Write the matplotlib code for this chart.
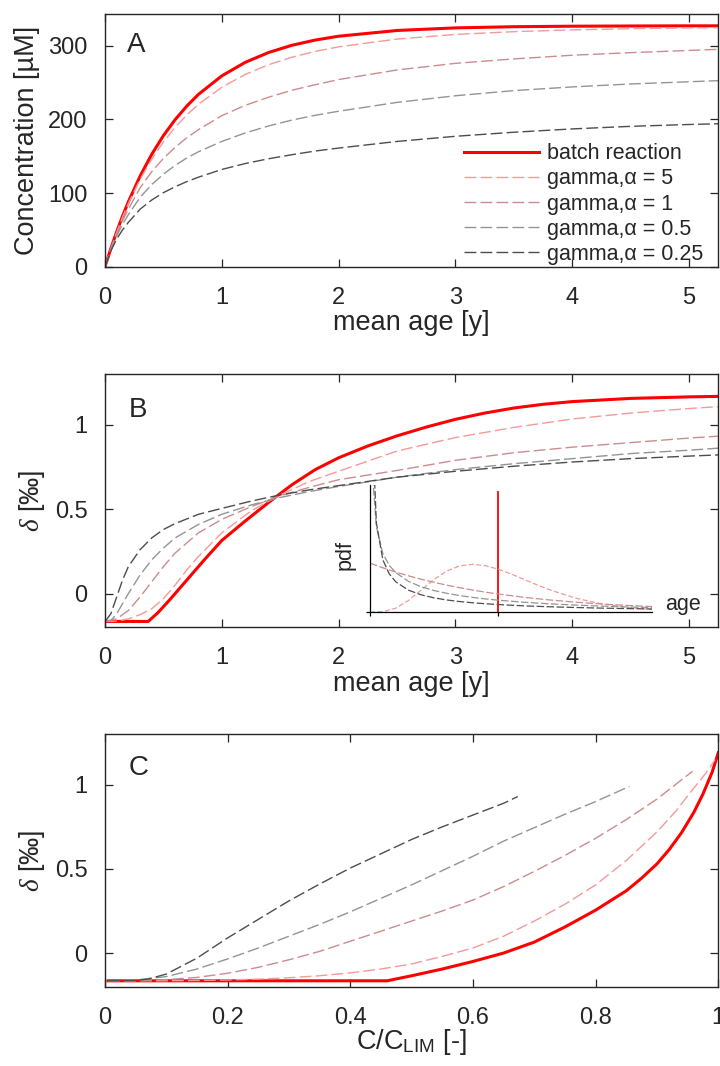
import matplotlib
matplotlib.use('Agg')
import matplotlib.pyplot as plt
from matplotlib.lines import Line2D

plt.rcParams['font.family'] = ['Liberation Sans', 'DejaVu Sans']
plt.rcParams['mathtext.fontset'] = 'custom'
plt.rcParams['mathtext.rm'] = 'Liberation Sans'
plt.rcParams['mathtext.it'] = 'Liberation Serif:italic'
plt.rcParams['mathtext.bf'] = 'Liberation Sans:bold'

# ---------------- data ----------------
labels = ['batch reaction', 'gamma,α = 5', 'gamma,α = 1', 'gamma,α = 0.5', 'gamma,α = 0.25']

# Panel A: concentration vs mean age
xA = [0, 0.05, 0.1, 0.15, 0.2, 0.3, 0.4, 0.5, 0.6, 0.7, 0.8, 1.0, 1.2, 1.4, 1.6, 1.8,
      2.0, 2.5, 3.0, 3.5, 4.0, 4.5, 5.0, 5.25]
conc_batch = [0, 24.7, 47.5, 68.6, 88.1, 122.8, 152.5, 177.9, 199.5, 218.0, 233.9, 259.0,
              277.3, 290.7, 300.5, 307.6, 312.8, 320.6, 324.1, 325.7, 326.4, 326.7, 326.9, 326.9]
conc_a5 = [0, 24.5, 46.8, 67.2, 85.8, 118.5, 146.0, 169.3, 189.1, 205.9, 220.4, 243.5,
           260.9, 274.1, 284.3, 292.2, 298.4, 308.9, 315.2, 319.0, 321.4, 323.0, 324.1, 324.5]
conc_a1 = [0, 23.8, 44.4, 62.3, 78.1, 107.0, 129.0, 147.0, 162.0, 175.0, 186.0, 205.0,
           219.0, 230.0, 239.5, 247.0, 254.0, 267.0, 276.0, 282.0, 287.0, 290.5, 293.5, 295.0]
conc_a05 = [0, 23.0, 41.7, 57.4, 70.7, 94.0, 111.5, 125.5, 137.5, 147.5, 156.0, 170.0,
            181.5, 191.0, 199.0, 205.5, 211.0, 223.0, 232.0, 239.0, 244.0, 248.0, 251.0, 252.5]
conc_a025 = [0, 21.6, 37.5, 50.0, 60.2, 78.0, 90.5, 100.5, 108.5, 115.5, 121.5, 132.0,
             140.0, 146.5, 152.0, 157.0, 161.0, 170.0, 177.0, 182.5, 187.0, 190.5, 193.0, 194.0]

# Panel B: delta vs mean age
xB_batch = [0, 0.37, 0.45, 0.55, 0.65, 0.75, 0.85, 1.0, 1.2, 1.4, 1.6, 1.8, 2.0, 2.25,
            2.5, 2.75, 3.0, 3.25, 3.5, 3.75, 4.0, 4.5, 5.0, 5.25]
dB_batch = [-0.165, -0.165, -0.115, -0.04, 0.04, 0.12, 0.20, 0.315, 0.43, 0.54, 0.645, 0.735,
            0.805, 0.875, 0.935, 0.987, 1.033, 1.07, 1.10, 1.122, 1.138, 1.157, 1.166, 1.169]
xB_a5 = [0, 0.1, 0.2, 0.3, 0.4, 0.5, 0.6, 0.7, 0.8, 1.0, 1.25, 1.5, 1.75, 2.0, 2.5, 3.0,
         3.5, 4.0, 4.5, 5.0, 5.25]
dB_a5 = [-0.165, -0.163, -0.15, -0.125, -0.09, -0.03, 0.05, 0.14, 0.22, 0.36, 0.49, 0.585,
         0.665, 0.725, 0.845, 0.925, 0.985, 1.035, 1.07, 1.097, 1.108]
xB_a1 = [0, 0.1, 0.2, 0.3, 0.4, 0.5, 0.6, 0.8, 1.0, 1.25, 1.5, 1.75, 2.0, 2.5, 3.0, 3.5,
         4.0, 4.5, 5.0, 5.25]
dB_a1 = [-0.165, -0.15, -0.10, -0.02, 0.07, 0.16, 0.24, 0.36, 0.44, 0.515, 0.58, 0.63,
         0.675, 0.73, 0.79, 0.835, 0.868, 0.895, 0.922, 0.933]
xB_a05 = [0, 0.05, 0.1, 0.15, 0.2, 0.3, 0.4, 0.5, 0.6, 0.8, 1.0, 1.25, 1.5, 1.75, 2.0, 2.5,
          3.0, 3.5, 4.0, 4.5, 5.0, 5.25]
dB_a05 = [-0.165, -0.16, -0.12, -0.06, 0.0, 0.11, 0.20, 0.27, 0.33, 0.41, 0.47, 0.525, 0.57,
          0.605, 0.635, 0.69, 0.735, 0.77, 0.80, 0.83, 0.85, 0.862]
xB_a025 = [0, 0.05, 0.1, 0.15, 0.2, 0.3, 0.4, 0.5, 0.6, 0.8, 1.0, 1.25, 1.5, 1.75, 2.0, 2.5,
           3.0, 3.5, 4.0, 4.5, 5.0, 5.25]
dB_a025 = [-0.165, -0.12, -0.02, 0.08, 0.16, 0.26, 0.33, 0.38, 0.415, 0.47, 0.505, 0.548, 0.585,
           0.615, 0.64, 0.69, 0.725, 0.755, 0.78, 0.80, 0.815, 0.822]

# Inset: age pdfs (mean age = 1)
age_batch = 1.0
pdf_batch_top = 2.45
x_pdf = [0.01, 0.02, 0.05, 0.1, 0.15, 0.2, 0.3, 0.4, 0.5, 0.6, 0.7, 0.8, 0.9, 1.0, 1.2, 1.4,
         1.6, 1.8, 2.0, 2.2]
pdf_a025 = [6.16, 3.65, 1.82, 1.07, 0.78, 0.62, 0.447, 0.351, 0.289, 0.246, 0.214, 0.189,
            0.169, 0.152, 0.126, 0.107, 0.092, 0.080, 0.070, 0.062]
pdf_a05 = [3.97, 2.79, 1.74, 1.20, 0.956, 0.807, 0.627, 0.516, 0.439, 0.382, 0.336, 0.299,
           0.268, 0.242, 0.200, 0.167, 0.142, 0.121, 0.104, 0.090]
x_pdf1 = [0, 0.1, 0.2, 0.3, 0.4, 0.5, 0.6, 0.7, 0.8, 0.9, 1.0, 1.2, 1.4, 1.6, 1.8, 2.0, 2.2]
pdf_a1 = [1.0, 0.905, 0.819, 0.741, 0.670, 0.607, 0.549, 0.497, 0.449, 0.407, 0.368, 0.301,
          0.247, 0.202, 0.165, 0.135, 0.111]
x_pdf5 = [0, 0.1, 0.2, 0.3, 0.4, 0.5, 0.6, 0.7, 0.8, 0.9, 1.0, 1.1, 1.2, 1.3, 1.4, 1.6, 1.8,
          2.0, 2.2]
pdf_a5 = [0, 0.008, 0.077, 0.235, 0.451, 0.668, 0.840, 0.944, 0.977, 0.948, 0.877, 0.779,
          0.670, 0.559, 0.456, 0.286, 0.169, 0.095, 0.051]

# Panel C: delta vs C/C_LIM
xC_batch = [0.005, 0.46, 0.5, 0.55, 0.6, 0.65, 0.7, 0.75, 0.8, 0.85, 0.875, 0.9, 0.92, 0.94,
            0.96, 0.975, 0.99, 1.0]
dC_batch = [-0.165, -0.165, -0.135, -0.095, -0.05, 0.0, 0.065, 0.155, 0.255, 0.37, 0.445, 0.53,
            0.615, 0.715, 0.835, 0.945, 1.075, 1.19]
xC_a5 = [0.005, 0.1, 0.15, 0.2, 0.25, 0.3, 0.35, 0.4, 0.45, 0.5, 0.55, 0.6, 0.65, 0.7, 0.75,
         0.8, 0.85, 0.9, 0.93, 0.96, 0.98, 0.995]
dC_a5 = [-0.165, -0.165, -0.163, -0.16, -0.155, -0.147, -0.135, -0.118, -0.095, -0.065,
         -0.02, 0.03, 0.1, 0.19, 0.29, 0.405, 0.55, 0.72, 0.84, 0.98, 1.07, 1.15]
xC_a1 = [0.005, 0.05, 0.1, 0.15, 0.2, 0.25, 0.3, 0.35, 0.4, 0.45, 0.5, 0.55, 0.6, 0.65, 0.7,
         0.75, 0.8, 0.85, 0.9, 0.958]
dC_a1 = [-0.165, -0.164, -0.158, -0.145, -0.12, -0.085, -0.04, 0.01, 0.07, 0.13, 0.19, 0.25,
         0.315, 0.395, 0.485, 0.58, 0.682, 0.793, 0.915, 1.08]
xC_a05 = [0.005, 0.05, 0.1, 0.15, 0.2, 0.25, 0.3, 0.35, 0.4, 0.45, 0.5, 0.55, 0.6, 0.65, 0.7,
          0.75, 0.8, 0.855]
dC_a05 = [-0.165, -0.16, -0.14, -0.095, -0.035, 0.03, 0.10, 0.17, 0.245, 0.325, 0.405, 0.49,
          0.575, 0.665, 0.745, 0.825, 0.90, 0.99]
xC_a025 = [0.005, 0.05, 0.07, 0.1, 0.15, 0.2, 0.25, 0.3, 0.35, 0.4, 0.45, 0.5, 0.55, 0.6,
           0.65, 0.673]
dC_a025 = [-0.165, -0.163, -0.155, -0.125, -0.03, 0.09, 0.20, 0.31, 0.41, 0.505, 0.59,
           0.675, 0.75, 0.82, 0.89, 0.93]

xticksA = [0, 1, 2, 3, 4, 5]
yticksA = [0, 100, 200, 300]
yticksB = [0, 0.5, 1]
xticksC = [0, 0.2, 0.4, 0.6, 0.8, 1]
xticklabelsC = ['0', '0.2', '0.4', '0.6', '0.8', '1']
yticklabelsB = ['0', '0.5', '1']

# ---------------- style ----------------
RED = '#ff0000'
C5 = (0.96, 0.60, 0.60)
C1 = (0.80, 0.55, 0.55)
C05 = (0.58, 0.58, 0.58)
C025 = (0.30, 0.30, 0.30)
gcols = [C5, C1, C05, C025]
TXT = (0.15, 0.15, 0.15)
DASH = (8.5, 3)
LW_RED = 2.2
LW_G = 1.0
FS_TICK = 17
FS_LAB = 19.5

fig = plt.figure(figsize=(7.2, 10.66), dpi=100)
L, W = 105 / 720, 613.3 / 720
axA = fig.add_axes([L, 0.7498, W, 0.2371])
axB = fig.add_axes([L, 0.4115, W, 0.2374])
axC = fig.add_axes([L, 0.0744, W, 0.2368])


def style(ax):
    ax.tick_params(direction='in', top=True, right=True, length=6, width=0.9,
                   labelsize=FS_TICK, colors=TXT)
    ax.tick_params(axis='y', pad=12.5)
    ax.tick_params(axis='x', pad=14.5)
    for s in ax.spines.values():
        s.set_linewidth(1.0)
        s.set_color(TXT)


# Panel A
axA.plot(xA, conc_batch, color=RED, lw=LW_RED, solid_capstyle='butt')
for ys, c in zip([conc_a5, conc_a1, conc_a05, conc_a025], gcols):
    axA.plot(xA, ys, color=c, lw=LW_G, dashes=DASH)
axA.set_xlim(0, 5.25)
axA.set_ylim(0, 343)
axA.set_xticks(xticksA)
axA.set_yticks(yticksA)
style(axA)
axA.set_xlabel('mean age [y]', fontsize=FS_LAB, color=TXT, labelpad=1)
axA.set_ylabel('Concentration [µM]', fontsize=FS_LAB, color=TXT, labelpad=6)
axA.text(0.035, 0.851, 'A', transform=axA.transAxes, fontsize=20, color=TXT, va='baseline')
handles = [Line2D([], [], color=RED, lw=LW_RED)] + \
          [Line2D([], [], color=c, lw=LW_G, dashes=DASH) for c in gcols]
axA.legend(handles, labels, loc='upper left', bbox_to_anchor=(0.585, 0.488), frameon=False,
           fontsize=15.5, handlelength=3.5, handletextpad=0.35, labelspacing=0.19,
           borderpad=0, borderaxespad=0, labelcolor=TXT)

# Panel B
axB.plot(xB_batch, dB_batch, color=RED, lw=LW_RED)
for xs, ys, c in zip([xB_a5, xB_a1, xB_a05, xB_a025], [dB_a5, dB_a1, dB_a05, dB_a025], gcols):
    axB.plot(xs, ys, color=c, lw=LW_G, dashes=DASH)
axB.set_xlim(0, 5.25)
axB.set_ylim(-0.2, 1.3)
axB.set_xticks(xticksA)
axB.set_yticks(yticksB)
axB.set_yticklabels(yticklabelsB)
style(axB)
axB.set_xlabel('mean age [y]', fontsize=FS_LAB, color=TXT, labelpad=1)
axB.set_ylabel(r'$\delta$ [‰]', fontsize=FS_LAB, color=TXT, labelpad=6)
axB.text(0.038, 0.832, 'B', transform=axB.transAxes, fontsize=20, color=TXT, va='baseline')

# Inset
axI = fig.add_axes([370 / 720, 1 - 612 / 1066, 282 / 720, 127 / 1066])
axI.set_facecolor('none')
axI.plot([age_batch, age_batch], [0, pdf_batch_top], color=RED, lw=1.3)
axI.plot(x_pdf5, pdf_a5, color=C5, lw=0.9, dashes=(4, 2))
axI.plot(x_pdf1, pdf_a1, color=C1, lw=0.9, dashes=(6, 2))
axI.plot(x_pdf, pdf_a05, color=C05, lw=0.9, dashes=(6, 2))
axI.plot(x_pdf, pdf_a025, color=C025, lw=0.9, dashes=(6, 2))
axI.set_xlim(0, 2.2)
axI.set_ylim(0, 2.6)
axI.set_xticks([0, 1])
axI.set_yticks([0])
axI.tick_params(direction='out', length=3, width=0.9, labelleft=False, labelbottom=False)
for s in ['top', 'right']:
    axI.spines[s].set_visible(False)
for s in ['left', 'bottom']:
    axI.spines[s].set_color('black')
    axI.spines[s].set_linewidth(0.9)
axI.text(-0.088, 0.45, 'pdf', transform=axI.transAxes, rotation=90, fontsize=15.5,
         color=TXT, ha='center', va='center')
axI.text(1.046, 0.06, 'age', transform=axI.transAxes, fontsize=15.5, color=TXT,
         ha='left', va='center')

# Panel C
axC.plot(xC_batch, dC_batch, color=RED, lw=LW_RED)
for xs, ys, c in zip([xC_a5, xC_a1, xC_a05, xC_a025], [dC_a5, dC_a1, dC_a05, dC_a025], gcols):
    axC.plot(xs, ys, color=c, lw=LW_G, dashes=DASH)
axC.set_xlim(0, 1)
axC.set_ylim(-0.2, 1.3)
axC.set_xticks(xticksC)
axC.set_xticklabels(xticklabelsC)
axC.set_yticks(yticksB)
axC.set_yticklabels(yticklabelsB)
style(axC)
axC.set_xlabel(r'C/C$_{\mathrm{LIM}}$ [-]', fontsize=FS_LAB, color=TXT, labelpad=-1)
axC.set_ylabel(r'$\delta$ [‰]', fontsize=FS_LAB, color=TXT, labelpad=6)
axC.text(0.038, 0.839, 'C', transform=axC.transAxes, fontsize=20, color=TXT, va='baseline')

fig.savefig('out.png', dpi=100)
